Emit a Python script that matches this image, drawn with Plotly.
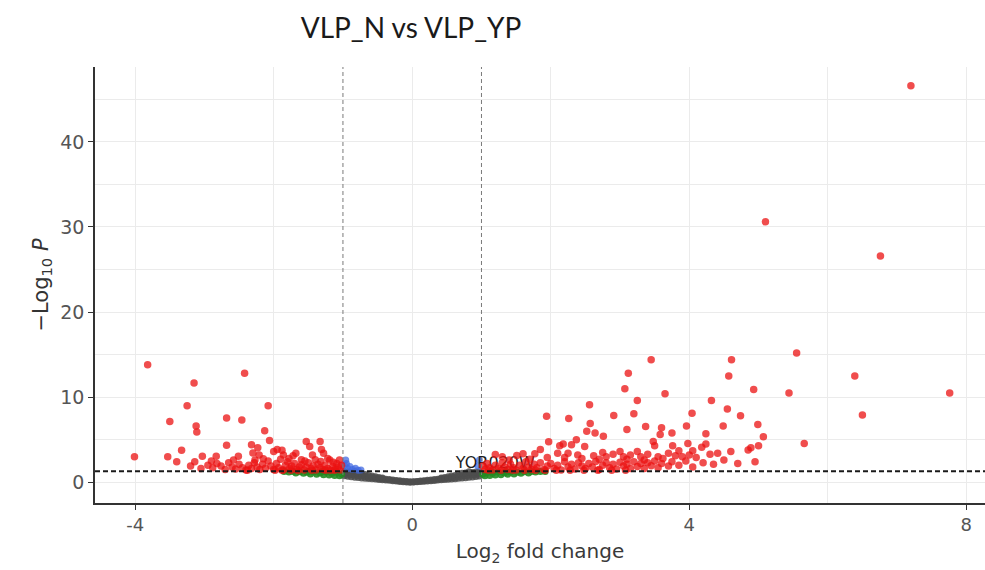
import plotly.graph_objects as go

# ---- significant (|log2FC| > 1 and p < 0.05) ----
red_fc = [
    -4.01, -3.82, -3.15, -2.42, -3.25, -2.08, -3.50, -3.12, -3.11, -2.68, -2.46, -2.13,
    -3.33, -3.53, -3.40, -2.68, -2.32, -2.06, -1.53, -1.33, -3.14, -3.03, -2.83, -2.82,
    -2.51, -2.30, -2.23, -2.21, -2.27, -2.00, -1.95, -1.88, -1.86, -1.72, -1.68, -1.48,
    -1.31, -1.28, -1.22, -1.19, -1.14, -1.09, -1.44, -1.40, -1.60,
    -3.20, -3.05, -2.95, -2.88, -2.76, -2.70, -2.65, -2.60, -2.55, -2.50, -2.45, -2.40,
    -2.36, -2.32, -2.28, -2.24, -2.20, -2.16, -2.12, -2.08, -2.04, -2.00, -1.96, -1.93,
    -1.90, -1.86, -1.83, -1.80, -1.77, -1.74, -1.70, -1.67, -1.63, -1.60, -1.56, -1.53,
    -1.50, -1.46, -1.43, -1.39, -1.36, -1.33, -1.29, -1.26, -1.22, -1.18, -1.15, -1.11,
    -1.07, -1.04, -1.02, -2.90, -2.58, -2.15, -1.78, -1.55, -1.32, -1.05,
    -1.98, -1.75, -1.45, -1.25, -1.12, -1.65, -1.88, -2.38,
    7.20, 5.10, 6.76, 5.55, 3.45, 4.61, 3.12, 4.57, 6.39, 3.07, 4.93, 5.44, 7.76, 3.65,
    6.50, 3.25, 4.32, 2.56, 3.20, 4.04, 4.55, 4.74, 1.94, 2.26, 2.91, 2.57, 3.37, 3.60,
    3.96, 4.49, 4.99, 3.10, 2.52, 2.64, 2.76, 3.58, 3.75, 4.24, 5.07, 1.97, 2.37, 2.18,
    2.13, 2.30, 2.49, 3.98, 4.24, 4.18, 3.48, 3.50, 3.76, 4.85, 4.89, 5.00, 4.41, 5.66,
    3.25, 1.85, 1.77, 1.20, 1.51, 1.60,
    2.10, 2.25, 2.39, 2.62, 2.75, 2.80, 2.90, 3.00, 3.05, 3.15, 3.30, 3.40, 3.55, 3.70,
    3.80, 3.90, 4.00, 4.10, 3.62, 3.35, 3.10, 2.70, 2.45, 2.20, 1.95, 1.70, 1.40, 1.30,
    4.30, 4.60, 4.05, 3.85,
    1.02, 1.05, 1.08, 1.12, 1.16, 1.20, 1.25, 1.30, 1.34, 1.38, 1.42, 1.46, 1.50, 1.55,
    1.60, 1.64, 1.68, 1.72, 1.76, 1.80, 1.85, 1.90, 1.95, 2.00, 2.05, 2.10, 2.15, 2.20,
    2.25, 2.30, 2.35, 2.40, 2.45, 2.50, 2.55, 2.60, 2.65, 2.70, 2.75, 2.80, 2.85, 2.90,
    2.95, 3.00, 3.05, 3.10, 3.15, 3.20, 3.25, 3.30, 3.35, 3.40, 3.45, 3.50, 3.55, 3.60,
    3.70, 3.75, 3.85, 3.95, 4.05, 4.20, 4.35, 4.50, 4.70, 4.95,
    1.10, 1.28, 1.45, 1.62, 1.78, 1.92, 2.08, 2.28, 2.48, 2.68, 2.88, 3.08,
]
red_logp = [
    3.00, 13.80, 11.65, 12.80, 9.00, 9.00, 7.15, 6.60, 5.90, 7.55, 7.30, 6.05,
    3.75, 3.00, 2.40, 4.35, 4.40, 4.90, 4.80, 4.80, 2.40, 3.05, 3.05, 2.20,
    3.05, 3.45, 4.05, 3.20, 2.60, 3.60, 3.85, 3.75, 3.20, 3.10, 3.40, 4.20,
    3.85, 3.40, 2.80, 2.60, 2.35, 2.20, 3.20, 2.65, 2.65,
    1.90, 1.60, 2.00, 1.70, 1.90, 1.50, 2.30, 1.80, 1.55, 2.10, 1.70, 1.45,
    2.00, 1.60, 2.30, 1.80, 1.50, 2.10, 1.65, 2.50, 1.90, 1.50, 2.20, 1.70,
    2.70, 1.45, 2.00, 2.40, 1.60, 1.90, 2.20, 1.50, 1.80, 2.05, 1.45, 1.75,
    2.30, 1.60, 1.90, 1.45, 2.10, 1.70, 1.50, 2.00, 1.60, 1.40, 1.85, 1.55,
    1.75, 1.45, 2.00, 2.50, 2.60, 2.75, 2.80, 2.50, 2.45, 2.60,
    1.40, 1.40, 1.40, 1.40, 1.40, 1.38, 1.42, 1.40,
    46.60, 30.60, 26.60, 15.20, 14.40, 14.40, 12.80, 12.50, 12.50, 11.00, 10.90, 10.50, 10.50, 10.40,
    7.90, 9.60, 9.60, 9.10, 8.05, 8.10, 8.60, 7.80, 7.75, 7.50, 7.85, 6.90, 6.55, 6.40,
    6.60, 6.60, 6.80, 6.20, 6.00, 5.80, 5.40, 5.60, 5.80, 5.70, 5.35, 4.75, 5.00, 4.50,
    4.30, 4.40, 4.20, 4.55, 4.50, 4.10, 4.80, 4.30, 4.30, 3.80, 4.05, 4.30, 3.40, 4.55,
    3.60, 3.85, 3.35, 3.25, 3.15, 3.35,
    3.40, 3.40, 3.20, 3.10, 3.50, 3.00, 3.30, 3.60, 3.00, 3.20, 3.00, 3.30, 3.00, 3.40,
    3.10, 3.00, 3.20, 2.90, 2.80, 2.60, 2.70, 2.70, 2.80, 2.90, 2.90, 2.70, 2.60, 3.00,
    3.30, 3.60, 3.70, 3.70,
    1.90, 1.50, 2.20, 1.70, 1.45, 2.00, 1.60, 2.30, 1.80, 1.50, 2.10, 1.70, 1.45, 2.00,
    1.60, 2.40, 1.80, 1.50, 2.10, 1.70, 2.30, 1.50, 1.90, 2.20, 1.60, 2.00, 1.45, 2.40,
    1.80, 2.10, 1.55, 2.30, 1.90, 1.60, 2.20, 1.80, 2.45, 1.50, 2.00, 2.30, 1.70, 2.10,
    1.55, 2.35, 1.90, 2.10, 1.60, 2.40, 1.85, 2.20, 1.60, 2.30, 1.95, 2.50, 1.70, 2.20,
    1.90, 2.40, 2.00, 2.50, 1.80, 2.30, 2.10, 2.60, 2.20, 2.40,
    1.40, 1.40, 1.40, 1.40, 1.40, 1.40, 1.40, 1.40, 1.40, 1.40, 1.40, 1.40,
]

# ---- |log2FC| > 1 only ----
green_fc = [
    -1.85, -1.78, -1.72, -1.68, -1.62, -1.57, -1.52, -1.47, -1.42, -1.38, -1.33, -1.28,
    -1.24, -1.20, -1.16, -1.12, -1.08, -1.05, -1.02, -1.30, -1.10, -1.50,
    1.02, 1.05, 1.08, 1.12, 1.16, 1.20, 1.24, 1.28, 1.33, 1.38, 1.42, 1.47, 1.52, 1.57,
    1.62, 1.68, 1.72, 1.78, 1.85, 1.92, 1.15, 1.35,
]
green_logp = [
    1.25, 1.20, 1.25, 1.10, 1.22, 1.05, 1.18, 0.98, 1.20, 0.95, 1.10, 0.88,
    1.20, 0.85, 1.05, 0.80, 1.15, 0.75, 0.95, 1.25, 1.27, 1.27,
    0.95, 0.75, 1.15, 0.80, 1.05, 0.85, 1.20, 0.88, 1.10, 0.95, 1.20, 0.98, 1.18, 1.05,
    1.22, 1.10, 1.25, 1.20, 1.25, 1.27, 1.27, 1.25,
]

# ---- p < 0.05 only ----
blue_fc = [-0.98, -0.96, -0.93, -0.90, -0.86, -0.82, -0.78, -0.74, -0.95, 0.97, 0.95]
blue_logp = [2.00, 2.60, 1.60, 1.85, 1.50, 1.65, 1.40, 1.45, 2.20, 2.60, 1.90]

# ---- not significant ----
grey_fc = [
    -0.98, -0.98, -0.98, -0.93, -0.93, -0.93, -0.88, -0.88, -0.88, -0.83, -0.83, -0.83,
    -0.78, -0.78, -0.78, -0.73, -0.73, -0.73, -0.68, -0.68, -0.68,
    -0.63, -0.63, -0.63, -0.58, -0.58, -0.58, -0.53, -0.53, -0.53,
    -0.48, -0.48, -0.48, -0.43, -0.43, -0.43, -0.38, -0.38,
    -0.33, -0.33, -0.28, -0.28, -0.23, -0.23, -0.18, -0.18,
    -0.13, -0.13, -0.08, -0.08, -0.03, -0.03,
    0.02, 0.02, 0.07, 0.07, 0.12, 0.12, 0.17, 0.17,
    0.22, 0.22, 0.27, 0.27, 0.32, 0.32, 0.37, 0.37,
    0.42, 0.42, 0.42, 0.47, 0.47, 0.47, 0.52, 0.52, 0.52,
    0.57, 0.57, 0.57, 0.62, 0.62, 0.62, 0.67, 0.67, 0.67,
    0.72, 0.72, 0.72, 0.77, 0.77, 0.77, 0.82, 0.82, 0.82, 0.87, 0.87, 0.87,
    0.92, 0.92, 0.92, 0.97, 0.97, 0.97,
]
grey_logp = [
    0.75, 1.00, 1.25, 0.70, 0.95, 1.20, 0.65, 0.90, 1.15, 0.60, 0.85, 1.25,
    0.55, 0.80, 1.10, 0.50, 0.75, 1.05, 0.47, 0.68, 0.90,
    0.43, 0.60, 0.80, 0.40, 0.55, 0.72, 0.37, 0.50, 0.64,
    0.33, 0.45, 0.57, 0.30, 0.40, 0.50, 0.26, 0.36,
    0.22, 0.31, 0.18, 0.26, 0.14, 0.21, 0.10, 0.17,
    0.07, 0.13, 0.04, 0.09, 0.01, 0.06,
    0.02, 0.07, 0.05, 0.10, 0.08, 0.14, 0.11, 0.18,
    0.14, 0.22, 0.18, 0.27, 0.21, 0.31, 0.25, 0.36,
    0.29, 0.40, 0.50, 0.32, 0.45, 0.57, 0.36, 0.50, 0.64,
    0.39, 0.55, 0.72, 0.42, 0.60, 0.80, 0.46, 0.68, 0.90,
    0.50, 0.75, 1.05, 0.54, 0.80, 1.10, 0.58, 0.85, 1.22, 0.63, 0.89, 1.14,
    0.68, 0.94, 1.19, 0.73, 0.99, 1.24,
]

# gene label
label_text = ["YOR020W"]
label_fc = [1.20]
label_logp = [2.20]

# axis settings
x_tickvals = [-4, 0, 4, 8]
x_ticktext = ["-4", "0", "4", "8"]
y_tickvals = [0, 10, 20, 30, 40]
fc_cutoff = [-1, 1]
p_cutoff = 1.30

fig = go.Figure()


def add_points(xs, ys, color, size=7):
    fig.add_trace(go.Scatter(
        x=xs, y=ys, mode="markers",
        marker=dict(size=size, color=color, line=dict(width=0)),
        hoverinfo="x+y", showlegend=False,
    ))


add_points(grey_fc, grey_logp, "rgba(77,77,77,0.85)")
add_points(green_fc, green_logp, "rgba(34,139,34,0.9)")
add_points(blue_fc, blue_logp, "rgba(65,105,225,0.75)")

fig.add_trace(go.Scatter(
    x=label_fc, y=label_logp, mode="text", text=label_text,
    textfont=dict(family="DejaVu Sans", size=16, color="#1e1e1e"),
    hoverinfo="skip", showlegend=False,
))

add_points(red_fc, red_logp, "rgba(235,18,18,0.75)", size=7.5)

for v in fc_cutoff:
    fig.add_vline(x=v, line=dict(color="#7a7a7a", width=1, dash="4px,3px"), layer="above")
fig.add_hline(y=p_cutoff, line=dict(color="#1a1a1a", width=2, dash="5px,3px"), layer="above")

grid_col = "#ebebeb"
fig.update_xaxes(
    range=[-4.58, 8.27], tickvals=x_tickvals, ticktext=x_ticktext,
    showgrid=True, gridcolor=grid_col, gridwidth=1,
    minor=dict(tick0=-2, dtick=4, showgrid=True, gridcolor=grid_col, gridwidth=1, ticks=""),
    zeroline=False, showline=True, linecolor="#333333", linewidth=1.5,
    ticks="outside", ticklen=5, tickcolor="#333333", tickwidth=1.2,
    tickfont=dict(family="DejaVu Sans", size=18, color="#555555"),
    title=dict(text="Log<sub>2</sub> fold change",
               font=dict(family="DejaVu Sans", size=20, color="#3a3a3a"), standoff=10),
)
fig.update_yaxes(
    range=[-2.44, 48.8], tickvals=y_tickvals,
    showgrid=True, gridcolor=grid_col, gridwidth=1,
    minor=dict(tick0=5, dtick=10, showgrid=True, gridcolor=grid_col, gridwidth=1, ticks=""),
    zeroline=False, showline=True, linecolor="#333333", linewidth=1.5,
    ticks="outside", ticklen=5, tickcolor="#333333", tickwidth=1.2,
    tickfont=dict(family="DejaVu Sans", size=19, color="#555555"),
    title=dict(text="\u2212Log<sub>10</sub> <i>P</i>",
               font=dict(family="DejaVu Sans", size=21, color="#333333"), standoff=6),
)

fig.update_layout(
    width=985, height=570,
    margin=dict(l=95, r=0, t=67, b=67),
    paper_bgcolor="white", plot_bgcolor="white",
    title=dict(text="VLP_N vs VLP_YP", x=411 / 985, xref="container", xanchor="center",
               y=1 - 28 / 570, yref="container", yanchor="middle",
               font=dict(family="Lato", size=28, color="#1a1a1a")),
    showlegend=False,
)

fig.write_html("out.html")
